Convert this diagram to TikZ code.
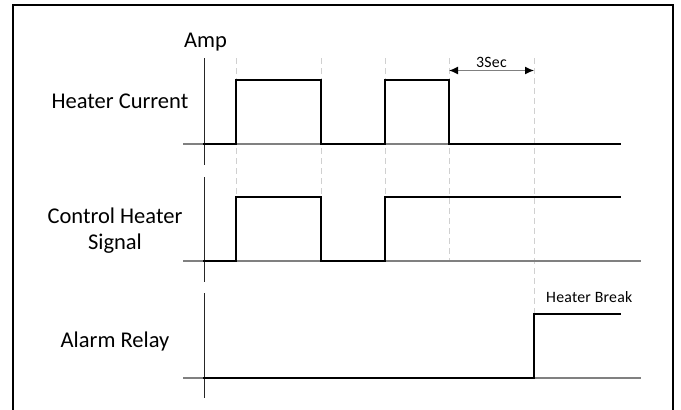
\documentclass[tikz,border=0pt]{standalone}
\usepackage{fontspec}
\setmainfont{Carlito}
\usetikzlibrary{arrows.meta}
\definecolor{dashgray}{HTML}{D0D0D0}
\definecolor{basegray}{HTML}{808080}
\tikzset{
  frame/.style={line width=2pt, black},
  axisline/.style={line width=0.9pt, black!85},
  baseline/.style={line width=1.4pt, basegray},
  guide/.style={line width=0.9pt, dashgray, dash pattern=on 6pt off 4pt},
  signal/.style={line width=2.6pt, black, line join=miter, line cap=rect},
  biglabel/.style={font=\fontsize{22.5}{26.5}\selectfont, inner sep=0pt},
  smalllabel/.style={font=\fontsize{15.8}{18}\selectfont\addfontfeatures{LetterSpace=1.5}, inner sep=0pt},
  dim/.style={line width=1.2pt, basegray, {Latex[length=9pt,width=8pt,black]}-{Latex[length=9pt,width=8pt,black]}}
}
\begin{document}
\begin{tikzpicture}[x=1pt,y=-1pt]
\useasboundingbox (0,0) rectangle (681,410);
% frame
\coordinate (fbl) at (13,410);
\coordinate (ftl) at (13,5);
\coordinate (ftr) at (673,5);
\coordinate (fbr) at (673,410);
\draw[frame] (fbl) -- (ftl) -- (ftr) -- (fbr);
% guide lines
\coordinate (g1t) at (236,58); \coordinate (g1b) at (236,197);
\coordinate (g2t) at (321,58); \coordinate (g2b) at (321,197);
\coordinate (g3t) at (385,58); \coordinate (g3b) at (385,197);
\coordinate (g4t) at (449,58); \coordinate (g4b) at (449,261);
\coordinate (g5t) at (534,58); \coordinate (g5b) at (534,314);
\foreach \g in {1,...,5} \draw[guide] (g\g t) -- (g\g b);
% axes
\coordinate (a1t) at (204,58);  \coordinate (a1b) at (204,165);
\coordinate (a2t) at (204,177); \coordinate (a2b) at (204,282);
\coordinate (a3t) at (204,293); \coordinate (a3b) at (204,398);
\foreach \a in {1,2,3} \draw[axisline] (a\a t) -- (a\a b);
% baselines
\coordinate (b1l) at (183,144); \coordinate (b1r) at (620,144);
\coordinate (b2l) at (183,261); \coordinate (b2r) at (641,261);
\coordinate (b3l) at (183,378); \coordinate (b3r) at (641,378);
\foreach \b in {1,2,3} \draw[baseline] (b\b l) -- (b\b r);
% signals
\draw[signal] (204,144) -- (236,144) -- (236,80) -- (321,80) -- (321,144) -- (385,144) -- (385,80) -- (449,80) -- (449,144) -- (620,144);
\draw[signal] (204,261) -- (236,261) -- (236,197) -- (321,197) -- (321,261) -- (385,261) -- (385,197) -- (620,197);
\draw[signal] (204,378) -- (534,378) -- (534,314) -- (620,314);
% 3 sec dimension
\coordinate (d1) at (449,70.5);
\coordinate (d2) at (534,70.5);
\draw[dim] (d1) -- (d2);
\node[smalllabel, anchor=base] (sec) at (491.5,67.5) {3Sec};
% labels
\node[biglabel, anchor=base] (amp) at (205.5,47) {Amp};
\node[biglabel, anchor=base east] (hc) at (188.5,108) {Heater Current};
\node[biglabel, align=center, anchor=base] (chs) at (115,249.5) {Control Heater\\Signal};
\node[biglabel, anchor=base] (ar) at (115,347.5) {Alarm Relay};
\node[smalllabel, anchor=base west] (hb) at (546,302.5) {Heater Break};
\end{tikzpicture}
\end{document}
